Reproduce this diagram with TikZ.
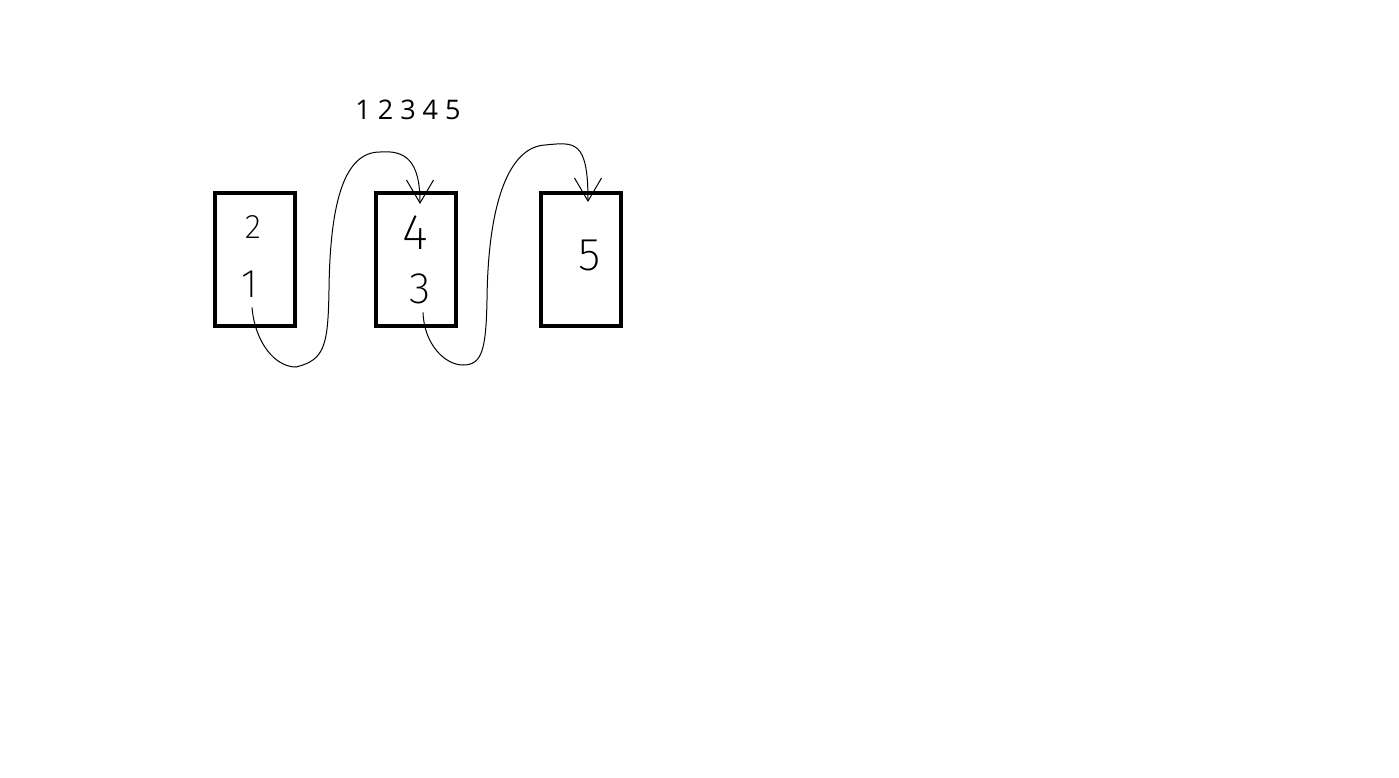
\documentclass[tikz,border=0pt]{standalone}
\usepackage{fontspec}
\setmainfont{Open Sans}
\newfontfamily\handfont{Fira Sans ExtraLight}
\usepackage{tikz}
\usetikzlibrary{arrows.meta}

\tikzset{
  slot/.style={draw, line width=4pt, minimum width=80pt, minimum height=133pt, inner sep=0pt},
  hand/.style={inner sep=0pt, font=\handfont\fontsize{40}{40}\selectfont},
  wire/.style={line width=1pt},
  barb/.style={-{Straight Barb[length=23pt,width=27pt,line width=1pt]}}
}

\begin{document}
\begin{tikzpicture}[x=1pt,y=-1pt]
\useasboundingbox (0,0) rectangle (1399,777);
\node[font=\fontsize{27}{27}\selectfont] (order) at (408,110) {1 2 3 4 5};
% the three boxes
\node[slot] (box1) at (255,259.5) {};
\node[slot] (box2) at (416,259.5) {};
\node[slot] (box3) at (581,259) {};
% handwritten digits
\node[hand, font=\handfont\fontsize{34}{34}\selectfont] (d2) at (253,227) {2};
\node[hand] (d1) at (250,284) {1};
\node[hand, font=\handfont\fontsize{50}{50}\selectfont] (d4) at (415,233) {4};
\node[hand, font=\handfont\fontsize{44}{44}\selectfont] (d3) at (420,289) {3};
\node[hand, font=\handfont\fontsize{46}{46}\selectfont] (d5) at (590,255) {5};
\coordinate (tip1) at (420,204);
\coordinate (tip2) at (588,202);
% connectors
\draw[wire,barb] (d1.south) ++(2,10) .. controls +(3,35) and (275,367) .. (296,367)
  .. controls (325,360) and (328,345) .. (329,290)
  .. controls (330,200) and (345,152) .. (380,152)
  .. controls (405,150) and (420,160) .. (tip1);
\draw[wire,barb] (d3.south) ++(3,8) .. controls +(1,32) and (445,365) .. (463,365)
  .. controls (482,365) and (486,350) .. (487,300)
  .. controls (488,200) and (510,147) .. (545,145)
  .. controls (575,142) and (588,140) .. (tip2);
\end{tikzpicture}
\end{document}
